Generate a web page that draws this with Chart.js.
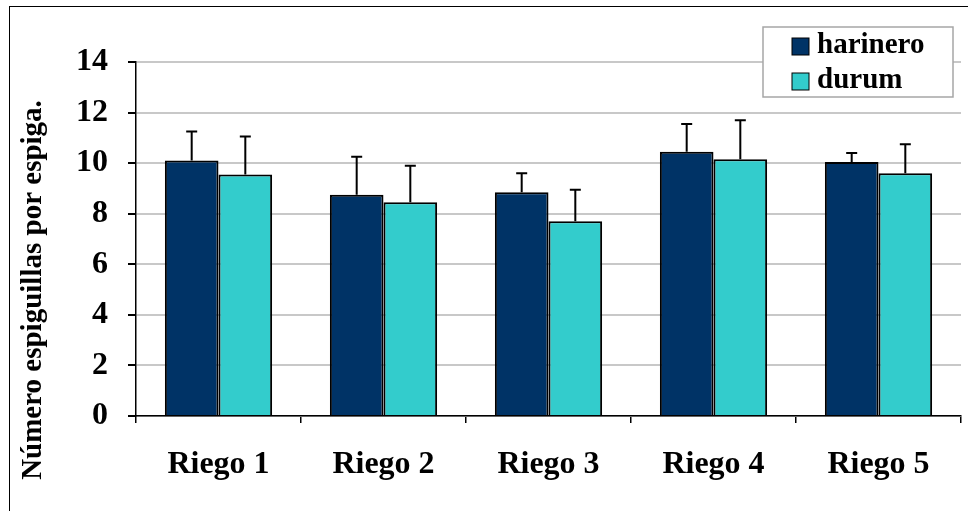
<!DOCTYPE html>
<html>
<head>
<meta charset="utf-8">
<script src="https://cdn.jsdelivr.net/npm/chart.js@4"></script>
<style>
  html, body { margin: 0; padding: 0; background: #fff; overflow: hidden; }
  #wrap { position: relative; width: 968px; height: 511px; }
  #frame { position: absolute; left: 9px; top: 6px; width: 980px; height: 520px; border: 1.5px solid #000; pointer-events: none; }
</style>
</head>
<body>
<div id="wrap">
  <canvas id="grafico" width="968" height="511"></canvas>
  <div id="frame"></div>
</div>
<script>
const categorias = ['Riego 1', 'Riego 2', 'Riego 3', 'Riego 4', 'Riego 5'];
const harinero = [10.1, 8.75, 8.85, 10.45, 10.05];
const durum = [9.55, 8.45, 7.7, 10.15, 9.6];
// desvío (solo hacia arriba)
const errHarinero = [1.15, 1.5, 0.75, 1.1, 0.35];
const errDurum = [1.5, 1.45, 1.25, 1.55, 1.15];
const yMin = 0, yMax = 14, yPaso = 2;

const colorHarinero = '#003366';
const colorDurum = '#33CCCC';
const fuente = '"Liberation Serif", "Times New Roman", serif';

const errores = [errHarinero, errDurum];

const barrasError = {
  id: 'barrasError',
  afterDatasetsDraw(chart) {
    const ctx = chart.ctx;
    const y = chart.scales.y;
    ctx.save();
    ctx.strokeStyle = '#000';
    ctx.lineWidth = 2;
    chart.data.datasets.forEach((ds, i) => {
      const meta = chart.getDatasetMeta(i);
      meta.data.forEach((bar, j) => {
        const tope = y.getPixelForValue(ds.data[j] + errores[i][j]);
        ctx.beginPath();
        ctx.moveTo(bar.x, bar.y);
        ctx.lineTo(bar.x, tope);
        ctx.moveTo(bar.x - 5.5, tope);
        ctx.lineTo(bar.x + 5.5, tope);
        ctx.stroke();
      });
    });
    ctx.restore();
  }
};

const extras = {
  id: 'extras',
  afterDraw(chart) {
    const ctx = chart.ctx;
    ctx.save();
    // titulo eje y
    ctx.translate(34, 290);
    ctx.rotate(-Math.PI / 2);
    ctx.fillStyle = '#000';
    ctx.font = 'bold 29px ' + fuente;
    ctx.textAlign = 'center';
    ctx.textBaseline = 'middle';
    ctx.fillText('Número espiguillas por espiga.', 0, 0);
    ctx.restore();

    // leyenda
    ctx.save();
    ctx.fillStyle = '#fff';
    ctx.fillRect(763, 27, 190, 70);
    ctx.strokeStyle = '#a6a6a6';
    ctx.lineWidth = 1.5;
    ctx.strokeRect(763, 27, 190, 70);
    ctx.font = 'bold 29px ' + fuente;
    ctx.textBaseline = 'middle';
    chart.data.datasets.forEach((ds, i) => {
      const cy = 46 + i * 35;
      ctx.fillStyle = ds.backgroundColor;
      ctx.fillRect(792, cy - 8, 17, 17);
      ctx.strokeStyle = '#000';
      ctx.lineWidth = 1;
      ctx.strokeRect(792, cy - 8, 17, 17);
      ctx.fillStyle = '#000';
      ctx.fillText(ds.label, 817, cy);
    });
    ctx.restore();
  }
};

new Chart(document.getElementById('grafico').getContext('2d'), {
  type: 'bar',
  data: {
    labels: categorias,
    datasets: [{
      label: 'harinero',
      data: harinero,
      backgroundColor: colorHarinero,
      borderColor: '#000',
      borderWidth: 2
    }, {
      label: 'durum',
      data: durum,
      backgroundColor: colorDurum,
      borderColor: '#000',
      borderWidth: 2
    }]
  },
  options: {
    responsive: false,
    animation: false,
    devicePixelRatio: 1,
    layout: { padding: { left: 0, top: 62, right: 7, bottom: 0 } },
    datasets: { bar: { categoryPercentage: 0.65, barPercentage: 1 } },
    plugins: { legend: { display: false }, tooltip: { enabled: false } },
    scales: {
      x: {
        afterFit(s) { s.height = 95; },
        grid: { drawOnChartArea: false, drawTicks: true, tickLength: 7, color: '#000', lineWidth: 1.5, offset: true },
        border: { display: true, color: '#000', width: 1.5 },
        ticks: { color: '#000', padding: 23, font: { family: fuente, size: 32, weight: 'bold' } }
      },
      y: {
        min: yMin,
        max: yMax,
        afterFit(s) { s.width = 136; },
        grid: { color: '#c8c8c8', lineWidth: 2, tickColor: '#000', tickLength: 8, drawTicks: true },
        border: { display: true, color: '#000', width: 1.5 },
        ticks: { stepSize: yPaso, color: '#000', padding: 20, font: { family: fuente, size: 32, weight: 'bold' } }
      }
    }
  },
  plugins: [barrasError, extras]
});
</script>
</body>
</html>
